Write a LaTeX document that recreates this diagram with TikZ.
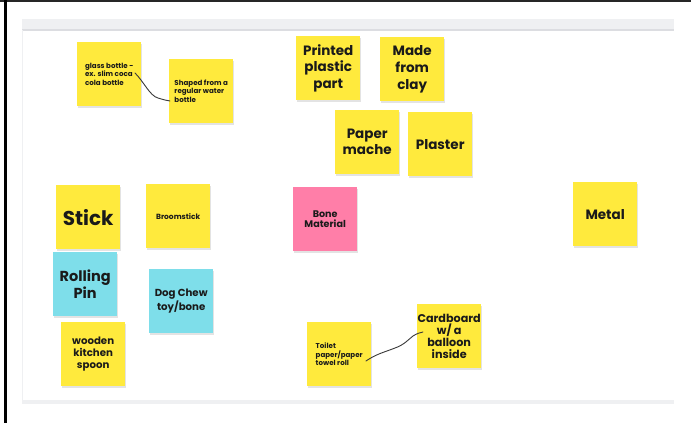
\documentclass[tikz,border=0pt]{standalone}
\usepackage{fontspec}
\setmainfont{Poppins}
\usetikzlibrary{shadows}
\definecolor{noteyellow}{HTML}{FFEA3D}
\definecolor{notecyan}{HTML}{7EDEEA}
\definecolor{notepink}{HTML}{FF7EA8}
\definecolor{band}{HTML}{EFF0F2}
\definecolor{bandline}{HTML}{DCDDE1}
\definecolor{ink}{HTML}{1A1A1A}
\definecolor{wire}{HTML}{3A3A3A}
\tikzset{
  note/.style={anchor=north west, minimum width=64pt, minimum height=64pt,
    inner sep=0pt, align=center, text=ink, fill=noteyellow,
    drop shadow={opacity=0.22, shadow xshift=0.4pt, shadow yshift=-1.4pt}},
  cyannote/.style={note, fill=notecyan},
  pinknote/.style={note, fill=notepink},
  fs/.style 2 args={font=\bfseries\fontsize{#1}{#2}\selectfont},
  smalltext/.style={align=left, font=\fontsize{7.1}{8.6}\selectfont\bfseries},
  wireline/.style={draw=wire, line width=0.9pt, line cap=round}
}
\begin{document}
\begin{tikzpicture}[x=1pt,y=-1pt]
\useasboundingbox (0,0) rectangle (691,423);
\fill[white] (0,0) rectangle (691,423);
% frame
\fill[black!85] (0,0) rectangle (691,1.5);
\fill[black] (4,0) rectangle (7,423);
% board
\fill[band] (22,19) rectangle (674,29);
\fill[bandline] (22,29) rectangle (674,30.5);
\draw[band, line width=0.6pt] (22.3,30) -- (22.3,400);
\fill[band] (22,400) rectangle (674,404);

% notes
\node[note, smalltext] (glass) at (77,42) {glass bottle -\\ex. slim coca\\cola bottle};
\node[note, smalltext] (shaped) at (169,59) {Shaped from a\\regular water\\bottle};
\node[note, fs={13.5}{16.7}] (printed) at (296,36) {Printed\\plastic\\part};
\node[note, fs={13.5}{16.7}] (clay) at (380,37) {Made\\from\\clay};
\node[note, fs={13.5}{16}] (mache) at (335,110) {Paper\\mache};
\node[note, fs={13.5}{16}] (plaster) at (408,112) {Plaster};
\node[note, fs={20}{24}] (stick) at (56,185) {Stick};
\node[note, fs={7.5}{8.5}] (broom) at (146,184) {Broomstick};
\node[cyannote, fs={14.5}{17}] (rolling) at (53,252) {Rolling\\Pin};
\node[cyannote, fs={10.2}{11.7}] (dog) at (149,269) {Dog Chew\\toy/bone};
\node[note, fs={10.2}{11.7}] (spoon) at (61,322) {wooden\\kitchen\\spoon};
\node[pinknote, fs={9.6}{10.5}] (bone) at (293,187) {Bone\\Material};
\node[note, smalltext] (toilet) at (307,322) {Toilet\\paper/paper\\towel roll};
\node[note, fs={11.2}{12}] (cardboard) at (417,304) {Cardboard\\w/ a\\balloon\\inside};
\node[note, fs={13.5}{16}] (metal) at (573,182) {Metal};

% connectors
\coordinate (g1) at (135,73);
\coordinate (s1) at (170,101);
\draw[wireline] (g1) .. controls (144,82) and (150,96) .. (158,98) .. controls (163,99.5) and (166,100.5) .. (s1);
\coordinate (t1) at (366,361);
\coordinate (cb1) at (423,332);
\draw[wireline] (t1) .. controls (376,354) and (385,352) .. (395,348) .. controls (404,345) and (409,339) .. (413,336) .. controls (417,333.5) and (420,332.5) .. (cb1);
\end{tikzpicture}
\end{document}
